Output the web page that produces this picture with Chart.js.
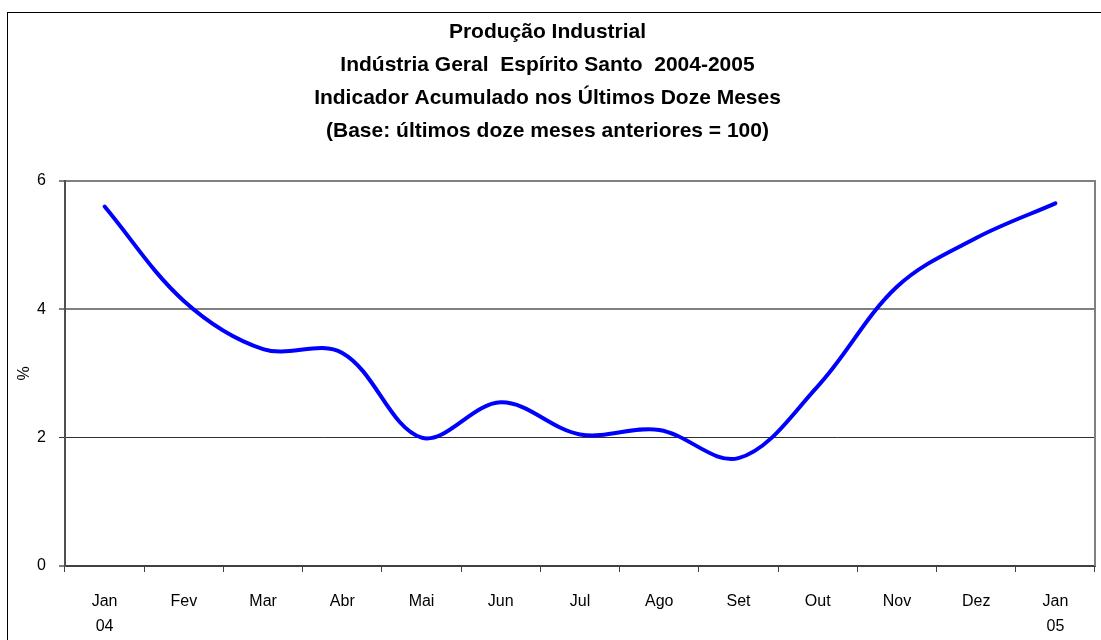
<!DOCTYPE html>
<html>
<head>
<meta charset="utf-8">
<script src="https://cdn.jsdelivr.net/npm/chart.js@4.4.1/dist/chart.umd.min.js"></script>
<style>
  html, body { margin: 0; padding: 0; background: #fff; }
  #wrap { width: 1101px; height: 640px; position: relative; }
</style>
</head>
<body>
<div id="wrap"><canvas id="c" width="1101" height="640"></canvas></div>
<script>
const titleLines = [
  'Produção Industrial',
  'Indústria Geral  Espírito Santo  2004-2005',
  'Indicador Acumulado nos Últimos Doze Meses',
  '(Base: últimos doze meses anteriores = 100)'
];
const categories = [['Jan', '04'], 'Fev', 'Mar', 'Abr', 'Mai', 'Jun', 'Jul', 'Ago', 'Set', 'Out', 'Nov', 'Dez', ['Jan', '05']];
const values = [5.6, 4.13, 3.38, 3.32, 2.0, 2.55, 2.05, 2.12, 1.68, 2.8, 4.35, 5.11, 5.65];
const yTicks = [0, 2, 4, 6];
const yTitle = '%';

const FONT = "'Liberation Sans', Arial, sans-serif";

const framePlugin = {
  id: 'frame',
  beforeDraw(chart) {
    const ctx = chart.ctx;
    ctx.save();
    ctx.fillStyle = '#fff';
    ctx.fillRect(0, 0, chart.width, chart.height);
    ctx.strokeStyle = '#000';
    ctx.lineWidth = 1;
    ctx.strokeRect(7.5, 12.5, chart.width + 10, chart.height + 10);
    ctx.restore();
  },
  afterDraw(chart) {
    const a = chart.chartArea;
    const ctx = chart.ctx;
    ctx.save();
    ctx.strokeStyle = '#808080';
    ctx.lineWidth = 2;
    ctx.beginPath();
    ctx.moveTo(a.right, a.top - 1);
    ctx.lineTo(a.right, a.bottom);
    ctx.stroke();
    ctx.restore();
  }
};

new Chart(document.getElementById('c'), {
  type: 'line',
  data: {
    labels: categories,
    datasets: [{
      data: values,
      borderColor: '#0000FF',
      borderWidth: 4,
      pointRadius: 0,
      tension: 0.35,
      fill: false,
      borderCapStyle: 'round',
      borderJoinStyle: 'round'
    }]
  },
  options: {
    responsive: false,
    animation: false,
    layout: { padding: { left: 0, right: 6, top: 1, bottom: 0 } },
    plugins: {
      legend: { display: false },
      tooltip: { enabled: false },
      title: {
        display: true,
        text: titleLines,
        color: '#000',
        font: { family: FONT, size: 21, weight: 'bold', lineHeight: 1.57 },
        padding: { top: 15, bottom: 33 }
      }
    },
    scales: {
      x: {
        type: 'category',
        offset: true,
        grid: {
          offset: true,
          drawOnChartArea: false,
          drawTicks: true,
          tickLength: 6,
          color: '#404040',
          lineWidth: 1
        },
        border: { display: true, color: '#404040', width: 2 },
        ticks: {
          color: '#000',
          font: { family: FONT, size: 16, lineHeight: 1.56 },
          padding: 17,
          maxRotation: 0,
          autoSkip: false
        },
        afterFit(scale) { scale.height = 74; }
      },
      y: {
        min: 0,
        max: 6,
        afterBuildTicks(scale) { scale.ticks = yTicks.map(v => ({ value: v })); },
        grid: {
          drawTicks: true,
          tickLength: 6,
          color: (c) => (c.tick && c.tick.value === 2) ? '#303030' : '#808080',
          lineWidth: (c) => (c.tick && c.tick.value === 2) ? 1 : 2
        },
        border: { display: true, color: '#505050', width: 2 },
        ticks: {
          color: '#000',
          font: { family: FONT, size: 16 },
          padding: 13
        },
        title: {
          display: true,
          text: yTitle,
          color: '#000',
          font: { family: FONT, size: 16 },
          padding: { top: 15, bottom: 0 }
        },
        afterFit(scale) { scale.width = 65; }
      }
    }
  },
  plugins: [framePlugin]
});
</script>
</body>
</html>
